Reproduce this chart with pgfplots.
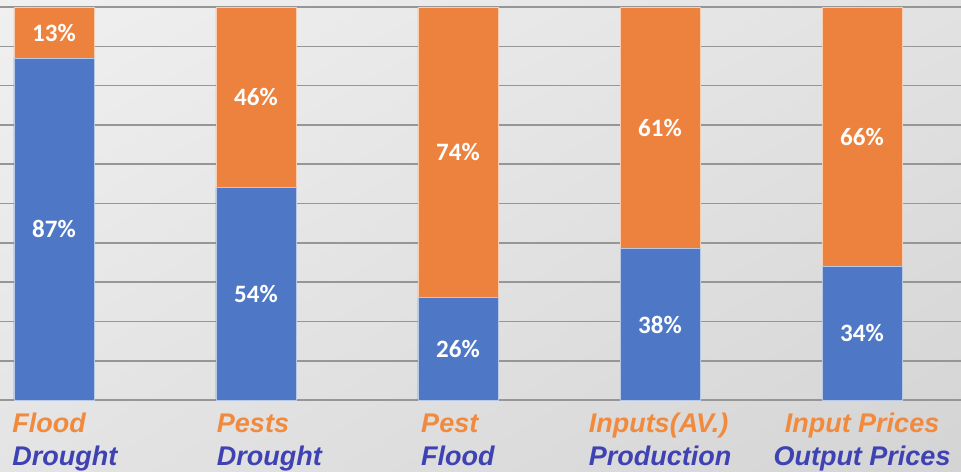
\documentclass[border=0pt]{standalone}
\usepackage{pgfplots}
\pgfplotsset{compat=1.18}
\usetikzlibrary{shadings}
\usepackage{fontspec}
\setmainfont{Liberation Sans}
\newfontfamily\calibri{Carlito}
\definecolor{barblue}{RGB}{78,120,198}
\definecolor{barorange}{RGB}{237,130,62}
\definecolor{laborange}{RGB}{242,138,62}
\definecolor{labblue}{RGB}{62,66,178}
\definecolor{gridgray}{RGB}{150,150,150}
\definecolor{bgul}{RGB}{240,240,240}
\definecolor{bgur}{RGB}{226,226,226}
\definecolor{bgll}{RGB}{228,228,228}
\definecolor{bglr}{RGB}{212,212,212}
\begin{document}
\begin{tikzpicture}
\path[use as bounding box] (0,0) rectangle (480.5pt,235.5pt);
\shade[shading=bilinear interpolation, upper left=bgul, upper right=bgur,
       lower left=bgll, lower right=bglr]
  (0,0) rectangle (480.5pt,235.5pt);
\begin{axis}[
  at={(0pt,35.5pt)}, anchor=south west,
  scale only axis, width=480.5pt, height=200pt,
  xmin=-0.267, xmax=4.49, ymin=0, ymax=101.8,
  axis x line*=bottom, axis y line*=left,
  y axis line style={draw=none},
  x axis line style={draw=gridgray, line width=1pt},
  ytick={10,20,...,100}, yticklabels={},
  ymajorgrids, grid style={draw=gridgray, line width=0.8pt},
  major tick length=0pt,
  xtick={0,1,2,3,4},
  xticklabel style={anchor=north, inner sep=0pt, yshift=-4.45pt,
    font=\fontsize{13.5}{16.5}\selectfont\bfseries\itshape},
  xticklabels={
    {\hspace*{11pt}\begin{tabular}{@{}l@{}}\textcolor{laborange}{Flood}\\\textcolor{labblue}{Drought}\end{tabular}},
    {\hspace*{13.5pt}\begin{tabular}{@{}l@{}}\textcolor{laborange}{Pests}\\\textcolor{labblue}{Drought}\end{tabular}},
    {\begin{tabular}{@{}l@{}}\textcolor{laborange}{Pest}\\\textcolor{labblue}{Flood}\end{tabular}},
    {\begin{tabular}{@{}l@{}}\textcolor{laborange}{Inputs(AV.)}\\\textcolor{labblue}{Production}\end{tabular}},
    {\begin{tabular}{@{}c@{}}\textcolor{laborange}{Input Prices}\\\textcolor{labblue}{Output Prices}\end{tabular}}
  },
]
% orange (top share) drawn to 100, blue overlays the lower part
\addplot[ybar, bar width=40pt, bar shift=0pt, fill=barorange, draw=white!60!barorange, line width=0.4pt]
  coordinates {(0,100) (1,100) (2,100) (3,100) (4,100)};
\addplot[ybar, bar width=40pt, bar shift=0pt, fill=barblue, draw=white!60!barblue, line width=0.4pt]
  coordinates {(0,87) (1,54) (2,26) (3,38.5) (4,34)};
% labels
\addplot[draw=none, mark=none, nodes near coords, point meta=explicit symbolic,
  nodes near coords align=center,
  every node near coord/.append style={text=white, inner sep=0pt, font=\calibri\bfseries\fontsize{12.5}{14}\selectfont}]
  table[meta=lab] {
x y lab
0 43.5 87\%
1 27 54\%
2 13 26\%
3 19 38\%
4 17 34\%
0 93.5 13\%
1 77 46\%
2 63 74\%
3 69.2 61\%
4 67 66\%
};
\end{axis}
\end{tikzpicture}
\end{document}
